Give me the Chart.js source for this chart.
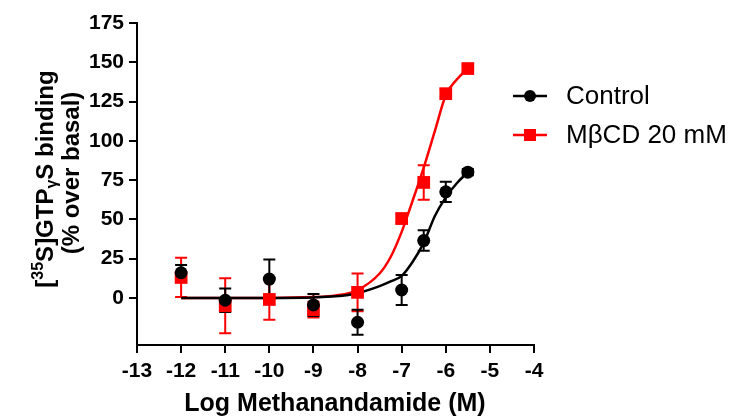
<!DOCTYPE html>
<html>
<head>
<meta charset="utf-8">
<script src="https://cdn.jsdelivr.net/npm/chart.js@4.4.1/dist/chart.umd.min.js"></script>
<style>
  html, body { margin: 0; padding: 0; background: #fff; }
  #wrap { width: 732px; height: 419px; }
</style>
</head>
<body>
<div id="wrap"><canvas id="chart" width="732" height="419"></canvas></div>
<script>
// log concentration of methanandamide (M)
const doses = [-12, -11, -10, -9, -8, -7, -6.5, -6, -5.5];

// Control
const controlMean = [16, -1.5, 12, -4.5, -15.5, 5, 36.5, 67.5, 80];
const controlErr = [5, 7.5, 12.5, 7, 8, 9.5, 6.5, 6.5, 2];

// MbCD 20 mM
const mbcdMean = [13, -5, -1, -7.5, 3.5, 50.5, 73.5, 130, 146];
const mbcdErr = [12.5, 17.5, 13, 5, 12, 3, 11, 3, 2];

// fitted curves
const fitX = [-12, -11, -10, -9, -8.5, -8, -7.5, -7.25, -7, -6.75, -6.5, -6.25, -6, -5.75, -5.5];
const controlFit = [0, 0, 0, 0.3, 1, 3, 7.5, 10.5, 14, 23, 35, 52, 64, 73, 80];
const mbcdFit = [0, 0, 0, 0.5, 1.5, 5, 15.5, 26, 42, 62, 83, 106, 129, 139, 146];

const xTicks = [-13, -12, -11, -10, -9, -8, -7, -6, -5, -4];
const yTicks = [0, 25, 50, 75, 100, 125, 150, 175];

const FONT = "'Liberation Sans', Arial, Helvetica, sans-serif";
const RED = "#ff0000";
const BLACK = "#000000";

function toPoints(xs, ys) {
  return xs.map((x, i) => ({ x: x, y: ys[i] }));
}

// ===== Error bars (drawn under the markers) =====
const errorBars = {
  id: "errorBars",
  beforeDatasetsDraw(chart) {
    const ctx = chart.ctx;
    const xs = chart.scales.x;
    const ys = chart.scales.y;
    const sets = [
      { mean: mbcdMean, err: mbcdErr, color: RED },
      { mean: controlMean, err: controlErr, color: BLACK },
    ];
    ctx.save();
    ctx.lineWidth = 2;
    sets.forEach((s) => {
      ctx.strokeStyle = s.color;
      doses.forEach((d, i) => {
        const px = xs.getPixelForValue(d);
        const top = ys.getPixelForValue(s.mean[i] + s.err[i]);
        const bot = ys.getPixelForValue(s.mean[i] - s.err[i]);
        ctx.beginPath();
        ctx.moveTo(px, top);
        ctx.lineTo(px, bot);
        ctx.moveTo(px - 6, top);
        ctx.lineTo(px + 6, top);
        ctx.moveTo(px - 6, bot);
        ctx.lineTo(px + 6, bot);
        ctx.stroke();
      });
    });
    ctx.restore();
  },
};

// ===== Axis titles + legend =====
const decorations = {
  id: "decorations",
  afterDraw(chart) {
    const ctx = chart.ctx;
    ctx.save();
    ctx.fillStyle = BLACK;

    // x title
    ctx.font = "bold 25px " + FONT;
    ctx.textAlign = "center";
    ctx.textBaseline = "alphabetic";
    ctx.fillText("Log Methanandamide (M)", 335, 411);

    // y title, two rotated lines
    const big = "bold 24px " + FONT;
    const small = "bold 16px " + FONT;
    const parts = [
      { t: "[", f: big, dy: 0 },
      { t: "35", f: small, dy: -10 },
      { t: "S]GTP", f: big, dy: 0 },
      { t: "\u03b3", f: small, dy: 4 },
      { t: "S binding", f: big, dy: 0 },
    ];
    let total = 0;
    parts.forEach((p) => {
      ctx.font = p.f;
      p.w = ctx.measureText(p.t).width;
      total += p.w;
    });
    ctx.save();
    ctx.translate(53, 179);
    ctx.rotate(-Math.PI / 2);
    ctx.textAlign = "left";
    let cx = -total / 2;
    parts.forEach((p) => {
      ctx.font = p.f;
      ctx.fillText(p.t, cx, p.dy);
      cx += p.w;
    });
    ctx.restore();

    ctx.save();
    ctx.translate(79, 173);
    ctx.rotate(-Math.PI / 2);
    ctx.font = big;
    ctx.textAlign = "center";
    ctx.fillText("(% over basal)", 0, 0);
    ctx.restore();

    // legend
    const items = [
      { label: "Control", color: BLACK, style: "circle", y: 96 },
      { label: "M\u03b2CD 20 mM", color: RED, style: "rect", y: 135 },
    ];
    items.forEach((it) => {
      ctx.strokeStyle = it.color;
      ctx.fillStyle = it.color;
      ctx.lineWidth = 2.5;
      ctx.beginPath();
      ctx.moveTo(513, it.y);
      ctx.lineTo(547, it.y);
      ctx.stroke();
      if (it.style === "circle") {
        ctx.beginPath();
        ctx.arc(530, it.y, 6, 0, Math.PI * 2);
        ctx.fill();
      } else {
        ctx.fillRect(524, it.y - 6, 12, 12);
      }
      ctx.fillStyle = BLACK;
      ctx.font = "26px " + FONT;
      ctx.textAlign = "left";
      ctx.textBaseline = "middle";
      ctx.fillText(it.label, 566, it.y + 1);
    });
    ctx.restore();
  },
};

const ctx = document.getElementById("chart").getContext("2d");
new Chart(ctx, {
  type: "scatter",
  data: {
    datasets: [
      {
        label: "Control",
        data: toPoints(doses, controlMean),
        pointStyle: "circle",
        pointRadius: 6.5,
        pointBackgroundColor: BLACK,
        pointBorderWidth: 0,
        showLine: false,
      },
      {
        label: "MbCD 20 mM",
        data: toPoints(doses, mbcdMean),
        pointStyle: "rect",
        pointRadius: 9,
        pointBackgroundColor: RED,
        pointBorderWidth: 0,
        showLine: false,
      },
      {
        label: "Control fit",
        data: toPoints(fitX, controlFit),
        showLine: true,
        borderColor: BLACK,
        borderWidth: 2.5,
        pointRadius: 0,
        cubicInterpolationMode: "monotone",
      },
      {
        label: "MbCD fit",
        data: toPoints(fitX, mbcdFit),
        showLine: true,
        borderColor: RED,
        borderWidth: 2.5,
        pointRadius: 0,
        cubicInterpolationMode: "monotone",
      },
    ],
  },
  options: {
    responsive: false,
    animation: false,
    devicePixelRatio: 1,
    layout: {
      padding: { left: 0, right: 198, top: 23, bottom: 0 },
    },
    plugins: {
      legend: { display: false },
      tooltip: { enabled: false },
    },
    scales: {
      x: {
        type: "linear",
        min: -13,
        max: -4,
        afterBuildTicks: (axis) => {
          axis.ticks = xTicks.map((v) => ({ value: v }));
        },
        afterFit: (axis) => {
          axis.height = 74;
        },
        ticks: {
          color: BLACK,
          font: { family: FONT, size: 21, weight: "bold" },
          padding: 6,
          maxRotation: 0,
          autoSkip: false,
        },
        grid: {
          drawOnChartArea: false,
          drawTicks: true,
          tickLength: 8,
          color: BLACK,
          lineWidth: 2,
        },
        border: { display: true, color: BLACK, width: 2 },
      },
      y: {
        type: "linear",
        min: -30,
        max: 175,
        afterBuildTicks: (axis) => {
          axis.ticks = yTicks.map((v) => ({ value: v }));
        },
        afterFit: (axis) => {
          axis.width = 137;
        },
        ticks: {
          color: BLACK,
          font: { family: FONT, size: 21, weight: "bold" },
          padding: 5,
          autoSkip: false,
        },
        grid: {
          drawOnChartArea: false,
          drawTicks: true,
          tickLength: 8,
          color: BLACK,
          lineWidth: 2,
        },
        border: { display: true, color: BLACK, width: 2 },
      },
    },
  },
  plugins: [errorBars, decorations],
});
</script>
</body>
</html>
